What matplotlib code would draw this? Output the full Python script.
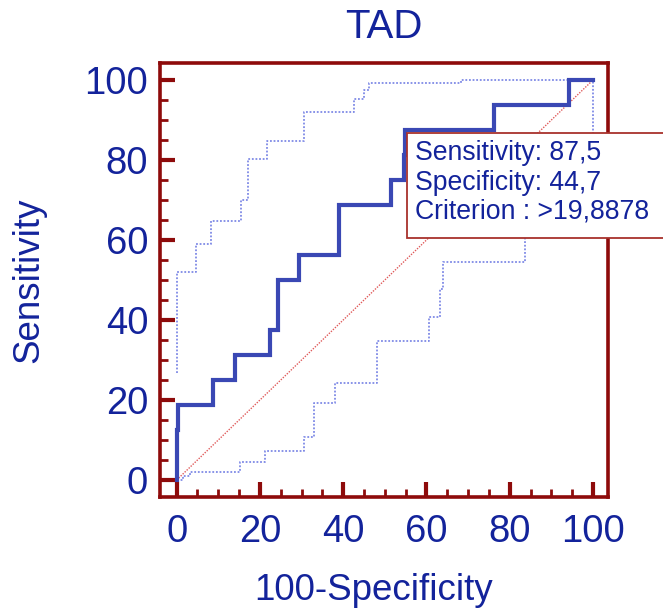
import numpy as np
import matplotlib
matplotlib.use("Agg")
import matplotlib.pyplot as plt
from matplotlib.patches import Rectangle

# ROC curve (step corners)
roc_fpr = [0, 0.4, 8.8, 13.9, 22.3, 24.3, 29.5, 39.1, 51.6, 54.5, 54.9, 76.3, 94.3, 100]
roc_tpr = [0, 12.5, 18.75, 25, 31.25, 37.5, 50, 56.25, 68.75, 75, 81.25, 87.5, 93.75, 100]

# upper confidence band (up then right)
up_x = [0, 4.6, 8.3, 15.5, 17.1, 21.8, 30.5, 42.7, 44.9, 46.1, 68.3, 100]
up_y = [26.7, 52, 58.9, 64.7, 70, 80.25, 84.75, 91.9, 95.2, 97.5, 99.2, 100]

# lower confidence band (right then up)
lo_x = [0, 1.5, 3.2, 15.2, 21.2, 30.6, 33, 38.1, 48.1, 60.5, 63.2, 64, 83.6, 92, 100]
lo_y = [0, 1, 2.1, 4.6, 7.3, 10.8, 19.2, 24.2, 34.8, 40.8, 47.7, 54.6, 66, 81, 100]

diag = [0, 100]
ticks = [0, 20, 40, 60, 80, 100]

title = "TAD"
box_lines = ["Sensitivity: 87,5", "Specificity: 44,7", "Criterion : >19,8878"]

navy = "#13239b"
dark_red = "#8e0b0b"

plt.rcParams['font.family'] = ['Liberation Sans', 'DejaVu Sans']

fig = plt.figure(figsize=(6.63, 6.09), dpi=100)
ax = fig.add_axes([160 / 663, 112 / 609, 448 / 663, 434 / 609])

ax.plot(diag, diag, color="#e05a5a", lw=1.0, ls=(0, (1, 1)))
ax.plot(up_x, up_y, color="#7f8ae6", lw=1.3, ls=(0, (1, 1)), drawstyle="steps-pre")
ax.plot(lo_x, lo_y, color="#7f8ae6", lw=1.3, ls=(0, (1, 1)), drawstyle="steps-post")
ax.plot(roc_fpr, roc_tpr, color="#3a48b4", lw=3.0, drawstyle="steps-pre",
        solid_joinstyle="miter")

ax.set_xlim(-4.0, 103.6)
ax.set_ylim(-4.25, 104.25)

for s in ax.spines.values():
    s.set_color(dark_red)
    s.set_linewidth(2.6)

ax.set_xticks(ticks)
ax.set_yticks(ticks)
ax.set_xticks(np.arange(0, 101, 5), minor=True)
ax.set_yticks(np.arange(0, 101, 5), minor=True)
ax.tick_params(which="major", direction="in", length=11, width=3, color=dark_red,
               labelsize=27.5, labelcolor=navy)
ax.tick_params(which="minor", direction="in", length=6, width=2, color=dark_red)
ax.tick_params(axis="y", which="major", pad=8.5)
ax.tick_params(axis="x", which="major", pad=12)

fig.text(384 / 663, 1 - 38 / 609, title, ha="center", va="baseline",
         fontsize=29, color=navy)
fig.text(374 / 663, 1 - 600 / 609, "100-Specificity", ha="center", va="baseline",
         fontsize=26.5, color=navy)
fig.text(29 / 663, 1 - 280 / 609, "Sensitivity", ha="center", va="center",
         rotation=90, fontsize=26.5, color=navy)

# annotation box, running off the right edge
box = Rectangle((406.7 / 663, 1 - 238.3 / 609), 0.5, 105 / 609,
                transform=fig.transFigure, facecolor="white",
                edgecolor="#a8322c", lw=1.3, zorder=5)
fig.add_artist(box)
for i, line in enumerate(box_lines):
    fig.text(415 / 663, 1 - (160 + 29.5 * i) / 609, line, ha="left", va="baseline",
             fontsize=19.2, color=navy, zorder=6)

fig.savefig("out.png", dpi=100)
